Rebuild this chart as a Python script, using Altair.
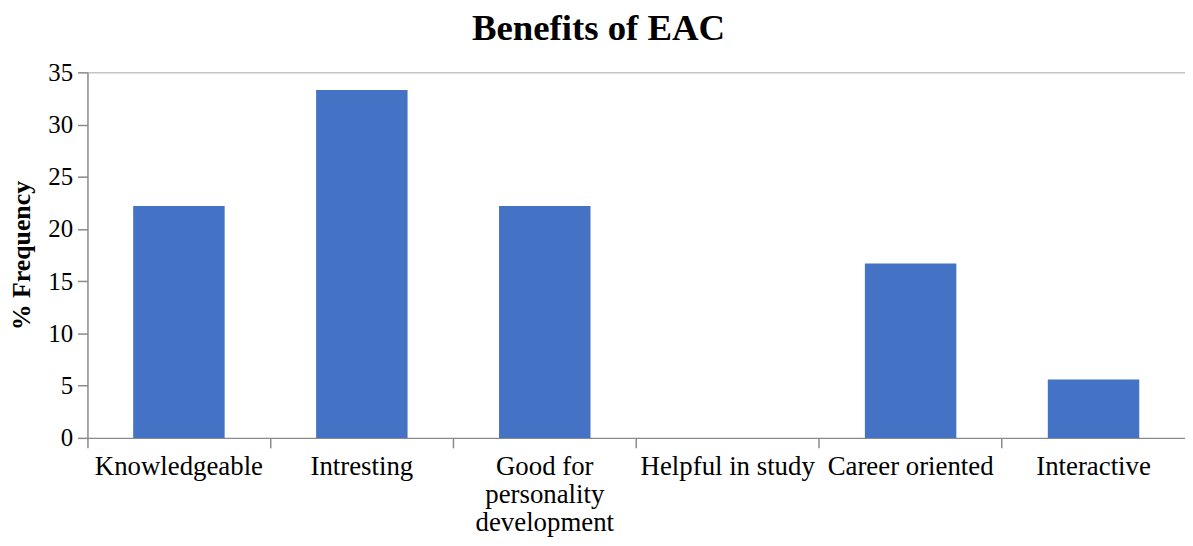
import altair as alt
import pandas as pd

categories = ["Knowledgeable", "Intresting", "Good for\npersonality\ndevelopment",
              "Helpful in study", "Career oriented", "Interactive"]
values = [22.2, 33.3, 22.2, 0, 16.7, 5.6]
y_ticks = [0, 5, 10, 15, 20, 25, 30, 35]

df = pd.DataFrame({"benefit": categories, "freq": values})
FONT = "Liberation Serif"
AXIS_GRAY = "#8a8a8a"

bars = alt.Chart(df).mark_bar(color="#4472C4").encode(
    x=alt.X(
        "benefit:N", sort=None,
        scale=alt.Scale(paddingInner=0.5, paddingOuter=0.25),
        axis=alt.Axis(
            orient="bottom", title=None, labelAngle=0,
            labelExpr="split(datum.label, '\\n')",
            labelFont=FONT, labelFontSize=27, labelColor="black",
            labelLineHeight=28, labelPadding=6, labelBaseline="top",
            labelLimit=0, labelOverlap=False, labelBound=False,
            bandPosition=-0.5,
            ticks=True, tickSize=10, tickColor=AXIS_GRAY, tickWidth=1.5,
            domainColor=AXIS_GRAY, domainWidth=1.5,
        ),
    ),
    y=alt.Y(
        "freq:Q",
        scale=alt.Scale(domain=[0, 35], nice=False),
        axis=alt.Axis(
            values=y_ticks, title="% Frequency",
            titleFont=FONT, titleFontSize=26, titleFontWeight="bold",
            titleColor="black", titlePadding=13,
            labelFont=FONT, labelFontSize=25, labelColor="black", labelPadding=5,
            tickSize=10, tickColor=AXIS_GRAY, tickWidth=1.5,
            domainColor=AXIS_GRAY, domainWidth=1.5,
            grid=True, gridColor="#c4c4c4", gridWidth=1.5,
            gridOpacity={"condition": {"test": "datum.value == 35", "value": 1}, "value": 0},
        ),
    ),
)

chart = bars.properties(
    width=1105,
    height=368,
    autosize=alt.AutoSizeParams(type="none"),
    padding={"left": 80, "top": 63, "right": 0, "bottom": 99},
    title=alt.TitleParams(
        "Benefits of EAC", font=FONT, fontSize=37, fontWeight="bold",
        color="black", anchor="middle", dx=-38, offset=13,
    ),
).configure_view(stroke=None)

chart.save("out.html", embed_options={"renderer": "svg", "actions": False})
